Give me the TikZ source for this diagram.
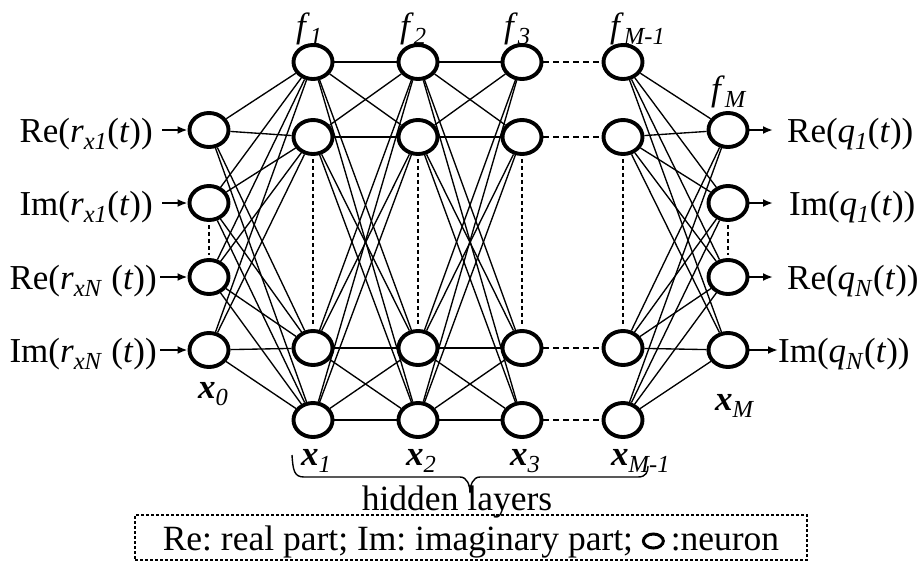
\documentclass[tikz,border=0pt]{standalone}
\usepackage{fontspec}
\setmainfont{Liberation Serif}
\usetikzlibrary{shapes.geometric,arrows.meta}
\pgfdeclarelayer{background}
\pgfsetlayers{background,main}
\frenchspacing

\tikzset{
  neuron/.style={ellipse, draw, line width=3.9pt, fill=white,
    minimum width=39pt, minimum height=34pt, inner sep=0pt},
  link/.style={line width=1.35pt},
  gap/.style={line width=2.3pt, dash pattern=on 4pt off 3pt},
  skip/.style={line width=2.3pt, dash pattern=on 6pt off 4pt},
  signal/.style={line width=2pt, -{Latex[length=10pt,width=8pt]}},
  lbl/.style={font=\fontsize{35}{40}\selectfont, inner sep=0pt},
  big/.style={font=\fontsize{35.5}{42}\selectfont, inner sep=0pt},
  brace/.style={line width=1.4pt},
  legendbox/.style={draw, line width=1.7pt, dash pattern=on 3pt off 2pt,
    minimum width=672pt, minimum height=45pt, inner sep=0pt,
    text height=29pt, text depth=4pt},
}

\newcommand{\sbx}[1]{\textsubscript{\textit{#1}}}

\begin{document}
\begin{tikzpicture}[x=1pt,y=-1pt]
\useasboundingbox (0,0) rectangle (920,565);

% input layer x_0
\foreach \r/\y in {1/130,2/203,3/277,4/350}
  \node[neuron] (i\r) at (209,\y) {};
% hidden layers x_1, x_2, x_3, x_{M-1}
\foreach \l/\x in {1/313,2/418,3/522,4/623}
  \foreach \r/\y in {1/62,2/137,3/348,4/420}
    \node[neuron] (h\l\r) at (\x,\y) {};
% output layer x_M
\foreach \r/\y in {1/130,2/203,3/277,4/350}
  \node[neuron] (o\r) at (728,\y) {};

% weights between layers
\begin{pgfonlayer}{background}
  \foreach \a in {1,...,4}
    \foreach \b in {1,...,4} {
      \draw[link] (i\a) -- (h1\b);
      \draw[link] (h1\a) -- (h2\b);
      \draw[link] (h2\a) -- (h3\b);
      \draw[link] (h4\a) -- (o\b);
    }
  \foreach \r in {1,...,4}
    \draw[skip] (h3\r) -- (h4\r);
  \draw[gap, shorten <=3pt, shorten >=3pt] (i2) -- (i3);
  \draw[gap, shorten <=3pt, shorten >=3pt] (o2) -- (o3);
  \foreach \l in {1,...,4}
    \draw[gap, shorten <=3pt, shorten >=3pt] (h\l2) -- (h\l3);
\end{pgfonlayer}

% input signals
\node[lbl, anchor=base east] (in1) at (153,142) {Re(\textit{r}\sbx{x1}(\textit{t}))};
\node[lbl, anchor=base east] (in2) at (153,215) {Im(\textit{r}\sbx{x1}(\textit{t}))};
\node[lbl, anchor=base east] (in3) at (157,289) {Re(\textit{r}\sbx{xN} (\textit{t}))};
\node[lbl, anchor=base east] (in4) at (157,362) {Im(\textit{r}\sbx{xN} (\textit{t}))};
\draw[signal, shorten <=9pt] (in1.east |- i1) -- (i1);
\draw[signal, shorten <=9pt] (in2.east |- i2) -- (i2);
\draw[signal, shorten <=3pt] (in3.east |- i3) -- (i3);
\draw[signal, shorten <=3pt] (in4.east |- i4) -- (i4);

% output signals
\node[lbl, anchor=base west] (out1) at (787,142) {Re(\textit{q}\sbx{1}(\textit{t}))};
\node[lbl, anchor=base west] (out2) at (789,215) {Im(\textit{q}\sbx{1}(\textit{t}))};
\node[lbl, anchor=base west] (out3) at (787,289) {Re(\textit{q}\sbx{N}(\textit{t}))};
\node[lbl, anchor=base west] (out4) at (778,362) {Im(\textit{q}\sbx{N}(\textit{t}))};
\draw[signal, shorten >=14pt] (o1) -- (out1.west |- o1);
\draw[signal, shorten >=16pt] (o2) -- (out2.west |- o2);
\draw[signal, shorten >=14pt] (o3) -- (out3.west |- o3);
\draw[signal] (o4) -- (out4.west |- o4);

% activation functions
\node[lbl, anchor=base west] (f1) at (296,37) {\textit{f}\sbx{1}};
\node[lbl, anchor=base west] (f2) at (400,37) {\textit{f}\sbx{2}};
\node[lbl, anchor=base west] (f3) at (504,37) {\textit{f}\sbx{3}};
\node[lbl, anchor=base west] (f4) at (610,37) {\textit{f}\sbx{M-1}};
\node[lbl, anchor=base west] (f5) at (711,100) {\textit{f}\sbx{M}};

% layer names
\node[lbl, anchor=base west] (x0) at (198,398) {\textbf{\textit{x}}\sbx{0}};
\node[lbl, anchor=base west] (x1) at (301,465) {\textbf{\textit{x}}\sbx{1}};
\node[lbl, anchor=base west] (x2) at (406,465) {\textbf{\textit{x}}\sbx{2}};
\node[lbl, anchor=base west] (x3) at (510,465) {\textbf{\textit{x}}\sbx{3}};
\node[lbl, anchor=base west] (x4) at (611,465) {\textbf{\textit{x}}\sbx{M-1}};
\node[lbl, anchor=base west] (x5) at (715,410) {\textbf{\textit{x}}\sbx{M}};

% brace under the hidden layers
\draw[brace] (292,455) .. controls (293,470) and (294,477) .. (304,477)
  -- (460,477) .. controls (467,477) and (470,485) .. (470,493)
  .. controls (470,485) and (473,477) .. (480,477)
  -- (638,477) .. controls (646,477) and (648,472) .. (648,466);
\node[big, anchor=base] (hid) at (457,510) {hidden layers};

% legend
\node[legendbox, big] (legend) at (471,537.5)
  {Re: real part; Im: imaginary part; \tikz[baseline=0pt]\draw[solid, line width=3pt] (0pt,9pt) ellipse [x radius=10pt, y radius=7pt];\,:neuron};
\end{tikzpicture}
\end{document}
